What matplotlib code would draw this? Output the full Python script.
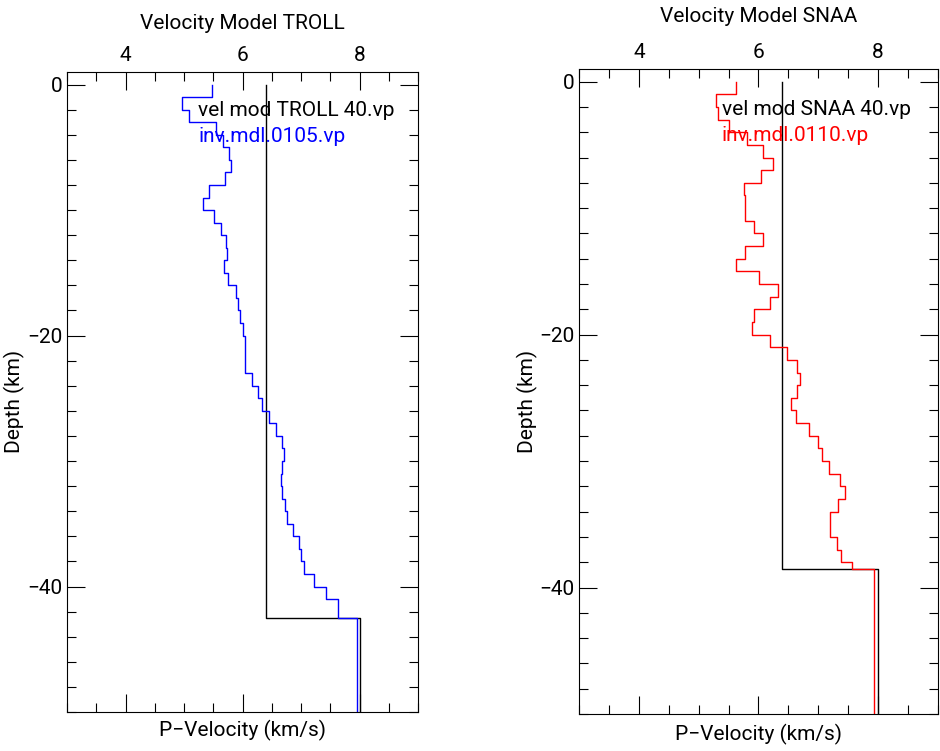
import numpy as np
import matplotlib
matplotlib.use("Agg")
import matplotlib.pyplot as plt
from matplotlib.ticker import MultipleLocator

plt.rcParams['font.family'] = ['Roboto', 'DejaVu Sans']
FS = 15

# reference models (layer top depth in km, P velocity in km/s)
troll_ref_top = [0, 42.5]
troll_ref_vp = [6.40, 8.00]
snaa_ref_top = [0, 38.5]
snaa_ref_vp = [6.40, 8.00]

# inversion results
troll_inv_top = [0, 1, 2, 3, 4, 5, 6, 7, 8, 9, 10, 11, 12, 13, 14, 15, 16, 17, 18, 19,
                 20, 23, 24, 25, 26, 27, 28, 29, 30, 31, 32, 33, 34, 35, 36, 37, 38,
                 39, 40, 41, 42.5]
troll_inv_vp = [5.47, 4.96, 5.09, 5.54, 5.67, 5.77, 5.81, 5.70, 5.43, 5.33, 5.51, 5.63,
                5.71, 5.73, 5.68, 5.76, 5.88, 5.93, 5.96, 6.00, 6.05, 6.17, 6.26, 6.33,
                6.45, 6.58, 6.68, 6.71, 6.68, 6.65, 6.68, 6.73, 6.76, 6.86, 6.97, 7.00,
                7.05, 7.22, 7.43, 7.64, 7.96]

snaa_inv_top = [0, 1, 2, 3, 4, 5, 6, 7, 8, 9, 11, 12, 13, 14, 15, 16, 17, 18, 19, 20,
                21, 22, 23, 24, 25, 26, 27, 28, 29, 30, 31, 32, 33, 34, 36, 37, 38, 38.5]
snaa_inv_vp = [5.63, 5.29, 5.33, 5.50, 5.81, 6.08, 6.24, 6.05, 5.76, 5.78, 5.92, 6.07,
               5.77, 5.62, 6.01, 6.32, 6.20, 5.92, 5.90, 6.20, 6.48, 6.64, 6.70, 6.64,
               6.55, 6.63, 6.84, 7.00, 7.07, 7.18, 7.37, 7.45, 7.33, 7.20, 7.32, 7.38,
               7.56, 7.93]

max_depth = 50


def layers(top, vp):
    top = np.asarray(top, float)
    bot = np.append(top[1:], max_depth)
    x = np.repeat(vp, 2)
    y = -np.column_stack([top, bot]).ravel()
    return x, y


def panel(ax, name, ref_top, ref_vp, inv_top, inv_vp, inv_name, col, lab_pos, title_y):
    x, y = layers(ref_top, ref_vp)
    ax.plot(x, y, color='black', lw=1.0)
    x, y = layers(inv_top, inv_vp)
    ax.plot(x, y, color=col, lw=1.0)
    ax.set_xlim(3, 9)
    ax.set_ylim(-50, 1)
    ax.xaxis.set_major_locator(MultipleLocator(2))
    ax.xaxis.set_minor_locator(MultipleLocator(0.5))
    ax.yaxis.set_major_locator(MultipleLocator(20))
    ax.yaxis.set_minor_locator(MultipleLocator(2))
    ax.tick_params(which='both', direction='in', top=True, right=True,
                   labeltop=True, labelbottom=False, width=0.8, labelsize=FS)
    ax.tick_params(which='major', length=13)
    ax.tick_params(which='minor', length=6.5)
    ax.tick_params(axis='x', pad=5)
    ax.tick_params(axis='y', pad=3)
    for s in ax.spines.values():
        s.set_linewidth(0.8)
    ax.text(0.5, title_y, "Velocity Model " + name, fontsize=FS,
            transform=ax.transAxes, ha='center', va='center')
    ax.set_xlabel("P\u2212Velocity (km/s)", fontsize=FS)
    ax.set_ylabel("Depth (km)", fontsize=FS)
    ax.text(lab_pos[0], lab_pos[1], "vel mod " + name + " 40.vp", fontsize=FS,
            color='black', va='center', ha='left')
    ax.text(lab_pos[0], lab_pos[1] - 2.05, inv_name, fontsize=FS,
            color=col, va='center', ha='left')


fig = plt.figure(figsize=(9.4, 7.51), dpi=100)
ax1 = fig.add_axes([0.0713, 0.0519, 0.3734, 0.8522])
ax2 = fig.add_axes([0.616, 0.0493, 0.3816, 0.8588])

panel(ax1, "TROLL", troll_ref_top, troll_ref_vp, troll_inv_top, troll_inv_vp,
      "inv.mdl.0105.vp", 'blue', (5.24, -2.07), 1 + 49 / 640)
panel(ax2, "SNAA", snaa_ref_top, snaa_ref_vp, snaa_inv_top, snaa_inv_vp,
      "inv.mdl.0110.vp", 'red', (5.39, -2.19), 1 + 53 / 645)

ax1.xaxis.set_label_coords(0.5, -0.0125)
ax1.yaxis.set_label_coords(-0.12, 0.485)
ax2.xaxis.set_label_coords(0.5, -0.0155)
ax2.yaxis.set_label_coords(-0.114, 0.485)

fig.savefig("out.png", dpi=100)
